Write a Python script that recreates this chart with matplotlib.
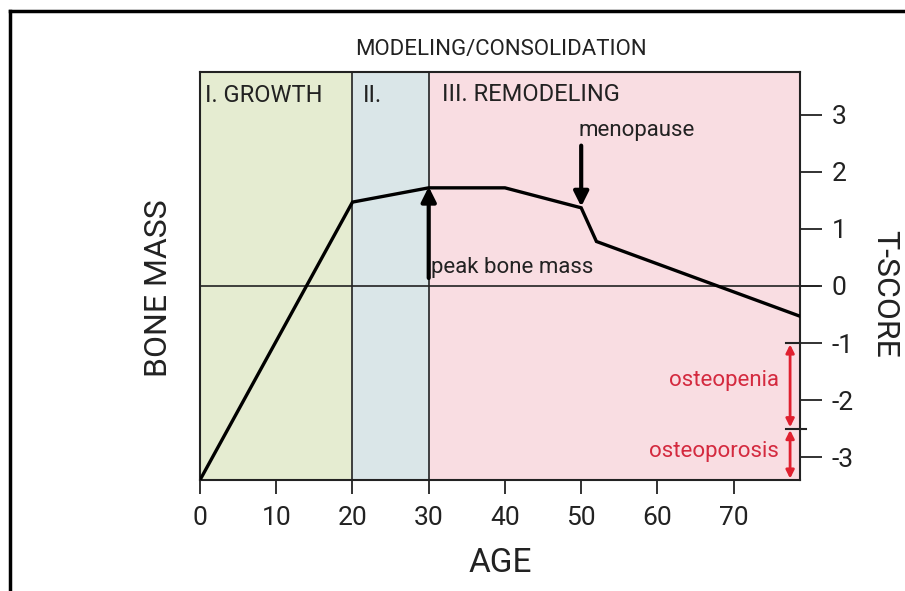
import matplotlib
matplotlib.use('Agg')
import matplotlib.pyplot as plt
from matplotlib.lines import Line2D

plt.rcParams['font.family'] = ['Roboto', 'DejaVu Sans']

# bone mass curve (age, T-score)
ages = [0, 20, 30, 40, 50, 52, 78.7]
tscore = [-3.4, 1.47, 1.72, 1.72, 1.37, 0.78, -0.53]

# phases of life
phase_edges = [0, 20, 30, 78.7]
phase_names = ['I. GROWTH', 'II.', 'III. REMODELING']
phase_colors = ['#e5ecd1', '#dae6e8', '#f9dde2']

age_ticks = [0, 10, 20, 30, 40, 50, 60, 70]
t_ticks = [3, 2, 1, 0, -1, -2, -3]
t_labels = ['3', '2', '1', '0', '-1', '-2', '-3']

osteopenia = (-1, -2.5)
osteoporosis = (-2.5, -3.4)
red = '#e0202f'
red_txt = '#d42a3f'
ink = '#222222'

fig = plt.figure(figsize=(9.05, 5.91), dpi=100)
ax = fig.add_axes([200/905, 1-480/591, 600/905, 408/591])
ax.set_xlim(0, 78.7)
ax.set_ylim(-3.4, 3.75)

for i in range(3):
    ax.axvspan(phase_edges[i], phase_edges[i+1], color=phase_colors[i], lw=0, zorder=0)
for x in phase_edges[1:3]:
    ax.axvline(x, color=ink, lw=1.2, zorder=1)
ax.axhline(0, color=ink, lw=1.2, zorder=1)
ax.plot([78.7, 81.2], [0, 0], color=ink, lw=1.2, clip_on=False)

ax.plot(ages, tscore, color='black', lw=2.4, zorder=3, solid_joinstyle='miter')

ax.text(0.7, 3.33, phase_names[0], fontsize=17, va='center', color=ink)
ax.text(21.3, 3.33, phase_names[1], fontsize=17, va='center', color=ink)
ax.text(31.8, 3.36, phase_names[2], fontsize=17, va='center', color=ink)

# peak bone mass arrow
ax.annotate('', xy=(30, 1.74), xytext=(30, 0.14),
            arrowprops=dict(arrowstyle='-|>', lw=3, color='black', mutation_scale=22,
                            shrinkA=0, shrinkB=0), zorder=4)
ax.text(30.3, 0.33, 'peak bone mass', fontsize=16, va='center', color=ink)

# menopause arrow
ax.annotate('', xy=(50, 1.39), xytext=(50, 2.46),
            arrowprops=dict(arrowstyle='-|>', lw=3, color='black', mutation_scale=22,
                            shrinkA=0, shrinkB=0), zorder=4)
ax.text(49.6, 2.72, 'menopause', fontsize=16, va='center', color=ink)

# osteopenia / osteoporosis ranges
ax.plot([76.8, 78.7], [-1, -1], color=ink, lw=1.5, clip_on=False)
ax.plot([76.8, 79.5], [-2.5, -2.5], color=ink, lw=1.5, clip_on=False)
for (a, b) in [osteopenia, osteoporosis]:
    ax.annotate('', xy=(77.4, b), xytext=(77.4, a),
                arrowprops=dict(arrowstyle='<|-|>', lw=2, color=red, mutation_scale=12,
                                shrinkA=1, shrinkB=1), zorder=4)
ax.text(75.9, -1.65, 'osteopenia', fontsize=16, ha='right', va='center', color=red_txt)
ax.text(75.9, -2.9, 'osteoporosis', fontsize=16, ha='right', va='center', color=red_txt)

for s in ax.spines.values():
    s.set_linewidth(1.5)
    s.set_color(ink)

ax.set_xticks(age_ticks)
ax.set_xticklabels([str(a) for a in age_ticks])
ax.tick_params(axis='x', direction='out', length=10, width=1.3, pad=9, labelsize=19, colors=ink)
ax.yaxis.tick_right()
ax.set_yticks(t_ticks)
ax.set_yticklabels(t_labels)
ax.tick_params(axis='y', direction='out', length=16, width=1.3, pad=7, labelsize=19, colors=ink)

ax.set_xlabel('AGE', fontsize=24, labelpad=12, color=ink)
fig.text(158/905, 1-288/591, 'BONE MASS', fontsize=23, rotation=90, ha='center', va='center', color=ink)
fig.text(885/905, 1-294/591, 'T-SCORE', fontsize=23, rotation=270, ha='center', va='center', color=ink)
fig.text(501/905, 1-50/591, 'MODELING/CONSOLIDATION', fontsize=16, ha='center', va='center', color=ink)

# outer frame
fig.add_artist(Line2D([10/905, 1.0], [1-11/591, 1-11/591], color='black', lw=2.5))
fig.add_artist(Line2D([10/905, 10/905], [1-11/591, 0], color='black', lw=2.5))

fig.savefig('out.png', dpi=100, facecolor='white')
